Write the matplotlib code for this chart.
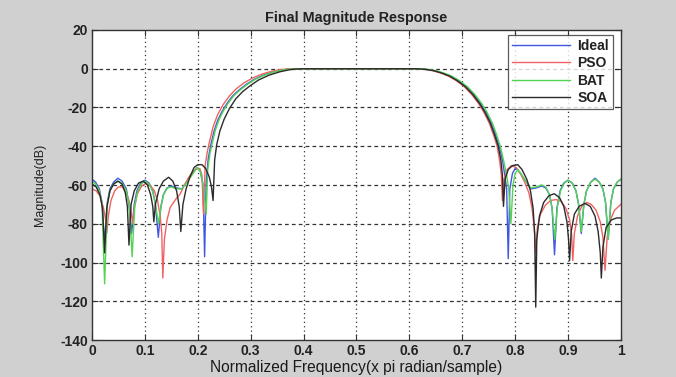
import matplotlib
matplotlib.use("Agg")
import matplotlib.pyplot as plt

# ---------------- data ----------------
ideal_f = [0, 0.007, 0.014, 0.019, 0.024, 0.029, 0.034, 0.041, 0.049, 0.057, 0.065, 0.07, 0.075, 0.08,
           0.085, 0.092, 0.1, 0.108, 0.115, 0.12, 0.1255, 0.13, 0.135, 0.142, 0.15, 0.16, 0.17, 0.18,
           0.19, 0.199, 0.205, 0.21, 0.213,
           0.216, 0.22, 0.225, 0.231, 0.238, 0.246, 0.255, 0.266, 0.278, 0.293, 0.308, 0.325, 0.343,
           0.358, 0.373, 0.388, 0.5,
           0.615, 0.632, 0.648, 0.663, 0.678, 0.693, 0.708, 0.722, 0.735, 0.745, 0.755, 0.763, 0.77,
           0.776, 0.781, 0.784, 0.787, 0.79, 0.795, 0.801, 0.81, 0.82, 0.83, 0.84, 0.85, 0.858, 0.865,
           0.87, 0.8745, 0.879, 0.885, 0.892, 0.9, 0.908, 0.915, 0.92, 0.925, 0.93, 0.935, 0.943,
           0.951, 0.959, 0.966, 0.971, 0.976, 0.981, 0.986, 0.993, 1.0]
ideal_db = [-57, -58.5, -62, -69, -90, -69, -62, -58.5, -56.5, -58, -62, -70, -85, -70,
            -63, -59, -57.5, -59, -63, -70, -87, -72, -65, -61.5, -60.5, -61.5, -62, -58,
            -54, -51, -53, -60, -97,
            -58, -46, -39, -32, -26.5, -22, -18, -14, -11, -7.8, -5.3, -3.2, -1.6,
            -0.7, -0.2, 0, 0,
            0, -0.3, -1.0, -2.2, -3.8, -6.2, -9.3, -13.3, -18, -22.5, -28, -34, -40,
            -47, -56, -62, -98, -62, -54, -51, -54, -58, -62, -61.5, -60.5, -61.5, -65,
            -72, -96, -72, -63, -59, -57.5, -59, -63, -70, -85, -70, -63, -58.5,
            -56.5, -58.5, -62, -69, -88, -69, -62, -58.5, -57]

pso_f = [0, 0.008, 0.016, 0.022, 0.026, 0.028, 0.031, 0.036, 0.043, 0.05, 0.057, 0.064, 0.07, 0.074,
         0.077, 0.08, 0.086, 0.094, 0.103, 0.111, 0.118, 0.124, 0.129, 0.132, 0.134, 0.137, 0.142,
         0.148, 0.158, 0.167, 0.175, 0.183, 0.191, 0.199, 0.204, 0.208, 0.211,
         0.214, 0.218, 0.222, 0.229, 0.238, 0.248, 0.26, 0.273, 0.288, 0.305, 0.322, 0.34, 0.355,
         0.37, 0.385, 0.5,
         0.611, 0.628, 0.644, 0.659, 0.674, 0.689, 0.704, 0.718, 0.731, 0.741, 0.751, 0.759, 0.766,
         0.771, 0.774, 0.776, 0.779, 0.785, 0.793, 0.802, 0.81, 0.818, 0.826, 0.832, 0.836, 0.839,
         0.842, 0.848, 0.857, 0.867, 0.877, 0.887, 0.896, 0.903, 0.907, 0.909, 0.912, 0.918, 0.926,
         0.935, 0.944, 0.953, 0.961, 0.966, 0.97, 0.974, 0.98, 0.988, 1.0]
pso_db = [-62, -63, -66, -72, -78, -85, -76, -68, -63, -61, -61, -63.5, -68, -74,
          -80, -72, -64.5, -60.5, -59, -60.5, -63, -68, -76, -85, -108, -88, -78,
          -71.5, -67.5, -64.5, -60, -56, -53, -51.5, -51.5, -55, -75,
          -50, -43, -38, -30, -23.5, -18.5, -14, -10.3, -7.2, -4.6, -2.7, -1.3, -0.5,
          -0.1, 0, 0,
          0, -0.3, -1.0, -2.2, -3.8, -6.2, -9.3, -13.3, -18, -22.5, -28, -34, -40,
          -48, -55, -68, -57, -52, -50, -51, -54, -58.5, -64, -72, -82, -95,
          -82, -75, -70.5, -68, -67.5, -68.5, -72, -78, -86, -99, -85, -76, -71,
          -69, -70, -73, -79, -87, -104, -87, -78, -73, -70]

bat_f = [0, 0.007, 0.014, 0.019, 0.024, 0.029, 0.034, 0.041, 0.049, 0.057, 0.065, 0.071, 0.076, 0.081,
         0.086, 0.093, 0.1, 0.108, 0.115, 0.12, 0.126, 0.131, 0.136, 0.143, 0.15, 0.16, 0.17, 0.18,
         0.19, 0.199, 0.205, 0.211, 0.216,
         0.219, 0.223, 0.227, 0.233, 0.24, 0.248, 0.257, 0.268, 0.28, 0.295, 0.31, 0.327, 0.345,
         0.36, 0.375, 0.39, 0.5,
         0.617, 0.634, 0.65, 0.665, 0.68, 0.695, 0.71, 0.724, 0.737, 0.747, 0.757, 0.765, 0.772,
         0.778, 0.784, 0.788, 0.792, 0.796, 0.8, 0.805, 0.812, 0.82, 0.83, 0.84, 0.85, 0.858, 0.865,
         0.87, 0.875, 0.88, 0.886, 0.893, 0.9, 0.908, 0.915, 0.92, 0.925, 0.93, 0.935, 0.943,
         0.951, 0.959, 0.966, 0.971, 0.976, 0.981, 0.986, 0.993, 1.0]
bat_db = [-58, -59.5, -63, -70, -111, -70, -63, -59.5, -58, -59, -63, -71, -97, -71,
          -63.5, -59.5, -58, -59.5, -63.5, -70, -80, -70, -64.5, -61.5, -61, -62, -62, -58.5,
          -54.5, -51, -53, -61, -75,
          -52, -44, -39, -32, -26.5, -22, -18, -14, -11, -7.8, -5.3, -3.2, -1.6,
          -0.7, -0.2, 0, 0,
          0, -0.3, -1.0, -2.2, -3.8, -6.2, -9.3, -13.3, -18, -22.5, -28, -34, -40,
          -47, -55, -62, -80, -60, -54, -52, -54.5, -58, -61.5, -61, -60, -61, -65,
          -72, -88, -71, -63, -59, -57.5, -59, -63, -70, -84, -70, -63, -58.5,
          -57, -58.5, -62, -69, -88, -69, -62, -58.5, -57]

soa_f = [0, 0.008, 0.015, 0.02, 0.024, 0.028, 0.034, 0.041, 0.049, 0.057, 0.063, 0.067, 0.07, 0.074,
         0.08, 0.088, 0.097, 0.105, 0.111, 0.115, 0.117, 0.12, 0.127, 0.135, 0.145, 0.153, 0.16,
         0.165, 0.168, 0.172, 0.178, 0.185, 0.193, 0.2, 0.208, 0.215, 0.222, 0.226, 0.229,
         0.232, 0.236, 0.242, 0.25, 0.26, 0.272, 0.285, 0.298, 0.315, 0.335, 0.355, 0.372, 0.385,
         0.398, 0.5,
         0.613, 0.63, 0.646, 0.661, 0.676, 0.691, 0.706, 0.72, 0.733, 0.743, 0.753, 0.761, 0.768,
         0.773, 0.776, 0.778, 0.781, 0.787, 0.795, 0.805, 0.813, 0.822, 0.829, 0.834, 0.837, 0.839,
         0.841, 0.846, 0.854, 0.864, 0.874, 0.884, 0.892, 0.898, 0.901, 0.903, 0.906, 0.912, 0.921,
         0.932, 0.942, 0.951, 0.957, 0.961, 0.963, 0.966, 0.972, 0.982, 0.992, 1.0]
soa_db = [-59.5, -61, -65, -72, -95, -72, -63, -59.5, -58, -59.5, -64, -71, -91, -70,
          -63, -59, -58, -60, -65, -71, -79, -70, -62, -58, -56, -58, -63,
          -71, -84, -70, -62, -56, -51, -49.5, -49.5, -51.5, -56, -61, -68,
          -47, -39, -32, -26, -20.5, -15.5, -11.8, -9, -5.8, -3.3, -1.6, -0.6, -0.15,
          0, 0,
          0, -0.3, -1.0, -2.2, -3.8, -6.2, -9.3, -13.3, -18, -22.5, -28, -34, -40,
          -47, -55, -71, -57, -52, -50, -49.5, -52, -57, -63, -72, -85, -123,
          -88, -76, -69, -65.5, -64.5, -66.5, -71, -79, -88, -99, -84, -75, -71,
          -69.5, -71, -76, -84, -95, -108, -92, -82, -78, -77, -77]

series_names = ["Ideal", "PSO", "BAT", "SOA"]
series_colors = ["#4257e0", "#f06262", "#52d452", "#2b2b2b"]

x_ticks = [0, 0.1, 0.2, 0.3, 0.4, 0.5, 0.6, 0.7, 0.8, 0.9, 1]
x_ticklabels = ["0", "0.1", "0.2", "0.3", "0.4", "0.5", "0.6", "0.7", "0.8", "0.9", "1"]
y_ticks = [-140, -120, -100, -80, -60, -40, -20, 0, 20]

# ---------------- figure ----------------
plt.rcParams['font.family'] = ['Liberation Sans', 'DejaVu Sans']
plt.rcParams['axes.unicode_minus'] = False
fig = plt.figure(figsize=(6.76, 3.77), dpi=100, facecolor="#d0d0d0")
ax = fig.add_axes([0.136, 0.098, 0.7825, 0.8225])
ax.set_facecolor("white")

data = [(ideal_f, ideal_db), (pso_f, pso_db), (bat_f, bat_db), (soa_f, soa_db)]
for (f, db), name, col in zip(data, series_names, series_colors):
    ax.plot(f, db, color=col, lw=1.0, label=name)

ax.set_xlim(0, 1)
ax.set_ylim(-140, 20)
ax.set_xticks(x_ticks)
ax.set_xticklabels(x_ticklabels)
ax.set_yticks(y_ticks)
for lbl in ax.get_xticklabels() + ax.get_yticklabels():
    lbl.set_fontweight("bold")
    lbl.set_fontsize(10)
    lbl.set_color("#222222")
ax.tick_params(direction="in", top=True, right=True, length=4, width=0.8, color="#333333", pad=3)

for x in x_ticks[1:-1]:
    ax.axvline(x, color="#333333", lw=0.9, ls=(0, (1, 2.5)), zorder=0.5)
for y in y_ticks[1:-1]:
    ax.axhline(y, color="#333333", lw=0.9, ls=(0, (3, 2.5)), zorder=0.5)

for s in ax.spines.values():
    s.set_color("#333333")
    s.set_linewidth(1.0)

ax.set_title("Final Magnitude Response", fontsize=10.4, fontweight="bold", color="#222222", pad=6)
ax.set_xlabel("Normalized Frequency(x pi radian/sample)", fontsize=11.2, color="#1a1a1a", labelpad=1)
ax.set_ylabel("Magnitude(dB)", fontsize=9, color="#222222", labelpad=10)

leg = ax.legend(loc="upper right", bbox_to_anchor=(0.985, 0.985), fontsize=10, frameon=True,
                fancybox=False, edgecolor="#333333", handlelength=4.2, handletextpad=0.5,
                borderpad=0.3, labelspacing=0.25, borderaxespad=0.0)
leg.get_frame().set_linewidth(0.9)
for t in leg.get_texts():
    t.set_fontweight("bold")
    t.set_color("#222222")

fig.savefig("out.png", dpi=100, facecolor=fig.get_facecolor())
